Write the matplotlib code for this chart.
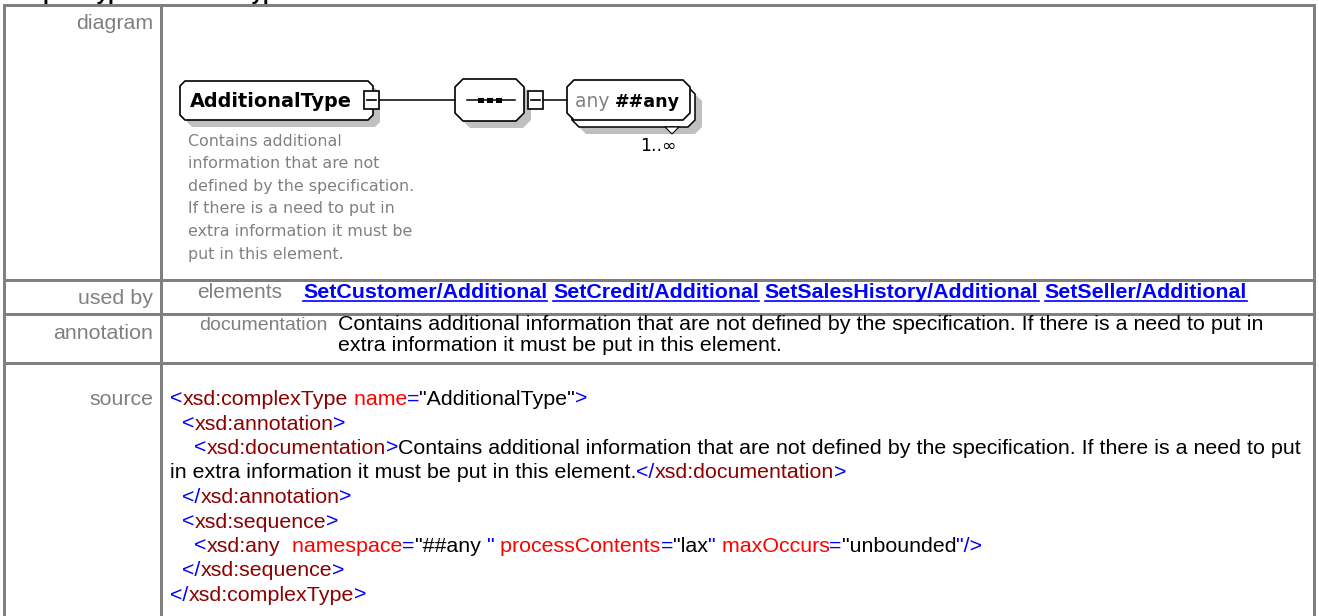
import matplotlib.pyplot as plt
from matplotlib.patches import Polygon, Rectangle

# page content
title = "complexType AdditionalType"
row_labels = ["diagram", "used by", "annotation", "source"]
element_name = "AdditionalType"
any_kind = "any"
any_ns = "##any"
occurs = "1..\u221e"
diagram_doc = [
    "Contains additional",
    "information that are not",
    "defined by the specification.",
    "If there is a need to put in",
    "extra information it must be",
    "put in this element.",
]
used_by_kind = "elements"
used_by_links = ["SetCustomer/Additional", "SetCredit/Additional",
                 "SetSalesHistory/Additional", "SetSeller/Additional"]
doc_kind = "documentation"
doc_lines = [
    "Contains additional information that are not defined by the specification. If there is a need to put in",
    "extra information it must be put in this element.",
]
# (indent level, [(text, style)]) ; b=markup blue, t=tag, a=attribute, v=value/text
source_lines = [
    (0, [("<", "b"), ("xsd:complexType", "t"), (" name", "a"), ("=", "b"), ('"AdditionalType"', "v"), (">", "b")]),
    (1, [("<", "b"), ("xsd:annotation", "t"), (">", "b")]),
    (2, [("<", "b"), ("xsd:documentation", "t"), (">", "b"),
         ("Contains additional information that are not defined by the specification. If there is a need to put", "v")]),
    (0, [("in extra information it must be put in this element.", "v"), ("</", "b"), ("xsd:documentation", "t"), (">", "b")]),
    (1, [("</", "b"), ("xsd:annotation", "t"), (">", "b")]),
    (1, [("<", "b"), ("xsd:sequence", "t"), (">", "b")]),
    (2, [("<", "b"), ("xsd:any", "t"), ("  namespace", "a"), ("=", "b"), ('"##any ', "v"), ('"', "b"),
         (" processContents", "a"), ("=", "b"), ('"lax', "v"), ('"', "b"),
         (" maxOccurs", "a"), ("=", "b"), ('"unbounded', "v"), ('"/>', "b")]),
    (1, [("</", "b"), ("xsd:sequence", "t"), (">", "b")]),
    (0, [("</", "b"), ("xsd:complexType", "t"), (">", "b")]),
]
style_colors = {"b": "#0000ff", "t": "#8b0000", "a": "#ff0000", "v": "#000000"}

W, H = 1319, 616
fig = plt.figure(figsize=(W / 100, H / 100), dpi=100)
ax = fig.add_axes([0, 0, 1, 1])
ax.set_xlim(0, W)
ax.set_ylim(H, 0)
ax.axis("off")
renderer = fig.canvas.get_renderer()

SANS = "Liberation Sans"
DIAG = "DejaVu Sans"
FS = 15.4
GRAY = "#808080"


def text_width(s, **kw):
    # measure with guard chars so spaces count
    t1 = ax.text(0, 0, "|" + s + "|", **kw)
    t2 = ax.text(0, 0, "||", **kw)
    w = t1.get_window_extent(renderer).width - t2.get_window_extent(renderer).width
    t1.remove()
    t2.remove()
    return w


def runs(x, y, parts, **kw):
    for s, color in parts:
        ax.text(x, y, s, color=color, va="baseline", ha="left", **kw)
        x += text_width(s, **kw)
    return x


def box(x0, y0, x1, y1, c, **kw):
    pts = [(x0 + c, y0), (x1 - c, y0), (x1, y0 + c), (x1, y1 - c),
           (x1 - c, y1), (x0 + c, y1), (x0, y1 - c), (x0, y0 + c)]
    ax.add_patch(Polygon(pts, closed=True, **kw))


def minus_box(cx, cy):
    ax.add_patch(Rectangle((cx - 7.5, cy - 9), 15, 18, fc="white", ec="black", lw=1.2, zorder=6))
    ax.plot([cx - 4.5, cx + 4.5], [cy, cy], color="black", lw=1.2, zorder=7)


# title, clipped at the top like the page it was cut from
ax.text(0, 0, title, fontsize=15, fontweight="bold", family=SANS, va="baseline", color="black")

# table grid
grid = "#808080"
sep_y = [279, 313, 362]
ax.add_patch(Rectangle((3, 4), 1313, 3, color=grid, lw=0))
ax.add_patch(Rectangle((3, 4), 3, H, color=grid, lw=0))
ax.add_patch(Rectangle((1313, 4), 3, H, color=grid, lw=0))
ax.add_patch(Rectangle((160, 4), 3, H, color=grid, lw=0))
for y in sep_y:
    ax.add_patch(Rectangle((3, y), 1313, 3, color=grid, lw=0))

label_y = [29, 304, 339, 405]
for lab, y in zip(row_labels, label_y):
    ax.text(153, y, lab, fontsize=FS, family=SANS, color=GRAY, ha="right", va="baseline")

# diagram: element box
shadow = "#c0c0c0"
box(187, 88, 380, 127, 5, fc=shadow, ec="none", zorder=2)
box(180, 81, 373, 120, 5, fc="white", ec="black", lw=1.2, zorder=3)
ax.text(190, 107, element_name, fontsize=13.9, fontweight="bold", family=DIAG, va="baseline", zorder=4)
minus_box(371, 100)
ax.plot([379, 455], [100, 100], color="black", lw=1.1, zorder=2)

# sequence compositor
box(462, 86, 531, 128, 8, fc=shadow, ec="none", zorder=2)
box(455, 79, 524, 121, 8, fc="white", ec="black", lw=1.2, zorder=3)
ax.plot([467, 515], [100, 100], color="black", lw=1.1, zorder=4)
for sx in (478, 487, 496):
    ax.add_patch(Rectangle((sx, 97.5), 6, 5, color="black", lw=0, zorder=5))
minus_box(535, 100)
ax.plot([543, 567], [100, 100], color="black", lw=1.1, zorder=2)

# any wildcard (repeated)
box(579, 94, 702, 134, 7, fc=shadow, ec="none", zorder=2)
box(572, 87, 695, 127, 7, fc="white", ec="black", lw=1.1, zorder=3)
ax.add_patch(Polygon([(665, 127), (679, 127), (672, 134)], closed=True, fc="white", ec="black", lw=0.8, zorder=3))
box(567, 80, 690, 120, 7, fc="white", ec="black", lw=1.2, zorder=4)
x = runs(575, 107, [(any_kind + " ", GRAY)], fontsize=13.4, family=DIAG, zorder=5)
ax.text(x, 107, any_ns, fontsize=12.6, fontweight="bold", family=DIAG, va="baseline", zorder=5)
ax.text(640, 151, occurs, fontsize=12.5, family=DIAG, va="baseline", color="black")

# diagram documentation
for i, line in enumerate(diagram_doc):
    ax.text(188, 146 + i * 22.5, line, fontsize=11.4, family=DIAG, color=GRAY, va="baseline")

# used by row
ax.text(197, 298, used_by_kind, fontsize=15.0, family=SANS, color=GRAY, va="baseline")
x = 303
for name in used_by_links:
    w = text_width(name, fontsize=FS, family=SANS, fontweight="bold")
    ax.text(x, 298, name, fontsize=FS, family=SANS, fontweight="bold", color="#0000ff", va="baseline")
    ax.plot([x, x + w], [300.5, 300.5], color="#0000ff", lw=1.2)
    x += w + text_width(" ", fontsize=FS, family=SANS, fontweight="bold")

# annotation row
ax.text(199, 330, doc_kind, fontsize=14.0, family=SANS, color=GRAY, va="baseline")
for i, line in enumerate(doc_lines):
    ax.text(338, 330 + i * 21, line, fontsize=FS, family=SANS, color="black", va="baseline")

# source row
for i, (lvl, parts) in enumerate(source_lines):
    y = 405 + i * 24.5
    runs(170 + 12 * lvl, y, [(s, style_colors[k]) for s, k in parts], fontsize=FS, family=SANS)

fig.savefig("out.png", dpi=100, facecolor="white")
